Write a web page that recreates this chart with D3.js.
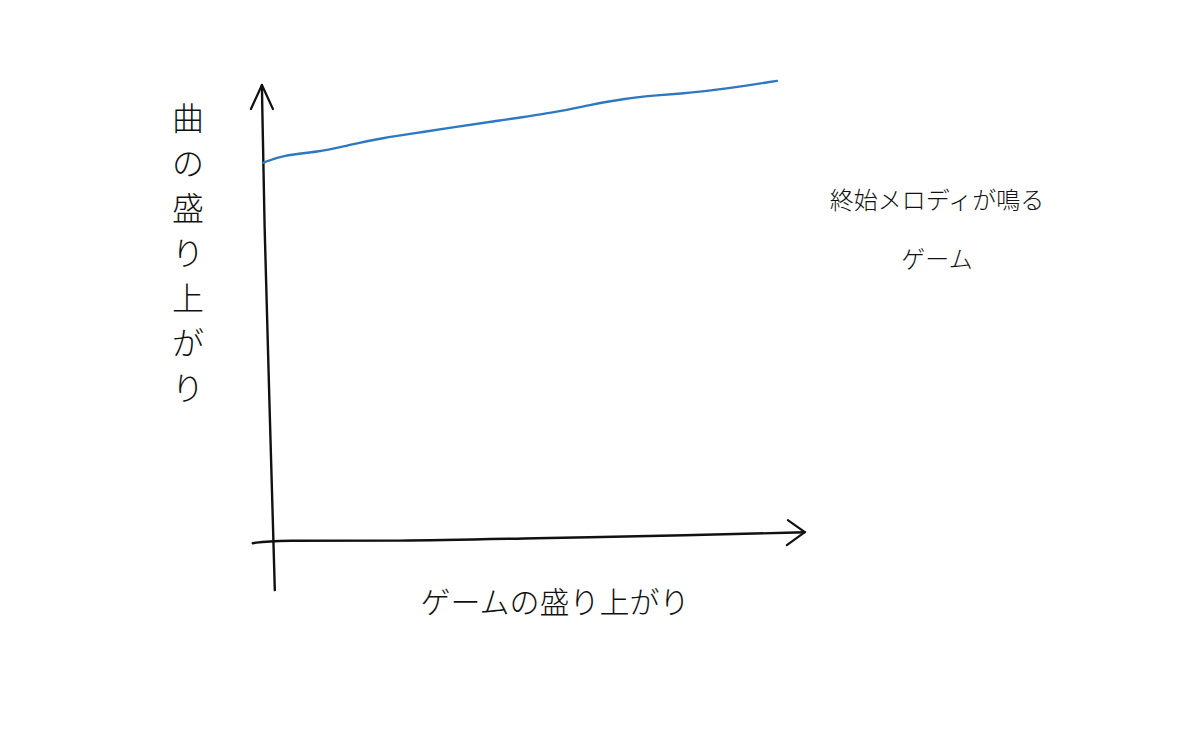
<!DOCTYPE html>
<html>
<head>
<meta charset="utf-8">
<script src="https://cdn.jsdelivr.net/npm/d3@7"></script>
<style>
  body { margin: 0; background: #fff; }
  text { font-family: "Noto Sans CJK JP", "Noto Sans", sans-serif; fill: #111; }
</style>
</head>
<body>
<div id="chart"></div>
<script>
// game excitement (x) vs music excitement (y)
const gameLevel  = [0, 3.7, 10.1, 16.2, 22.3, 28.7, 34.8, 42.3, 54.7, 60.9, 67.0, 73.4, 79.5, 85.7, 95.7];
const musicLevel = [82.0, 83.7, 84.3, 85.9, 87.4, 88.5, 89.6, 90.9, 93.0, 94.6, 95.9, 96.7, 97.2, 98.0, 99.8];

const xLabel = "ゲームの盛り上がり";
const yLabel = "曲の盛り上がり";
const noteLines = ["終始メロディが鳴る", "ゲーム"];

(function() {
  const width = 1200, height = 750;

  const svg = d3.select("#chart")
    .append("svg")
      .attr("width", width)
      .attr("height", height);

  const x = d3.scaleLinear().domain([0, 100]).range([263, 800]);
  const y = d3.scaleLinear().domain([0, 100]).range([540, 80]);

  const data = gameLevel.map((g, i) => ({g: g, m: musicLevel[i]}));

  // hand drawn axes, slightly wobbly
  const axisLine = d3.line()
    .x(d => x(d[0]))
    .y(d => y(d[1]))
    .curve(d3.curveBasis);

  // y axis (bottom end leans right a bit)
  svg.append("path")
    .attr("d", axisLine([[2.2, -10.9], [1.2, 30], [0.2, 70], [-0.2, 98.9]]))
    .attr("fill", "none")
    .attr("stroke", "#111")
    .attr("stroke-width", 2.4)
    .attr("stroke-linecap", "round");

  // x axis
  svg.append("path")
    .attr("d", axisLine([[-1.9, -0.7], [2, 0], [25, -0.3], [50, 0.4], [80, 1.0], [100.9, 1.7]]))
    .attr("fill", "none")
    .attr("stroke", "#111")
    .attr("stroke-width", 2.4)
    .attr("stroke-linecap", "round");

  // arrow heads
  const yTip = [x(-0.2), y(98.9)];
  svg.append("path")
    .attr("d", `M${yTip[0] - 11},${yTip[1] + 24} L${yTip[0]},${yTip[1]} L${yTip[0] + 11},${yTip[1] + 24}`)
    .attr("fill", "none")
    .attr("stroke", "#111")
    .attr("stroke-width", 2.2)
    .attr("stroke-linecap", "round")
    .attr("stroke-linejoin", "round");

  const xTip = [x(100.9), y(1.7)];
  svg.append("path")
    .attr("d", `M${xTip[0] - 17},${xTip[1] - 12} L${xTip[0]},${xTip[1]} L${xTip[0] - 18},${xTip[1] + 13}`)
    .attr("fill", "none")
    .attr("stroke", "#111")
    .attr("stroke-width", 2.2)
    .attr("stroke-linecap", "round")
    .attr("stroke-linejoin", "round");

  // the blue line
  svg.append("path")
    .datum(data)
    .attr("d", d3.line()
      .x(d => x(d.g))
      .y(d => y(d.m))
      .curve(d3.curveBasis))
    .attr("fill", "none")
    .attr("stroke", "#2e78c0")
    .attr("stroke-width", 2.4)
    .attr("stroke-linecap", "round");

  // x label
  svg.append("text")
    .attr("x", 555)
    .attr("y", 613)
    .attr("text-anchor", "middle")
    .attr("font-size", 30)
    .attr("font-weight", 300)
    .text(xLabel);

  // y label, one character per row
  svg.append("g")
    .selectAll("text")
    .data(Array.from(yLabel))
    .enter()
    .append("text")
      .attr("x", 188)
      .attr("y", (d, i) => 130 + i * 45)
      .attr("text-anchor", "middle")
      .attr("font-size", 32)
      .attr("font-weight", 300)
      .text(d => d);

  // annotation
  svg.append("g")
    .selectAll("text")
    .data(noteLines)
    .enter()
    .append("text")
      .attr("x", 937)
      .attr("y", (d, i) => 209 + i * 59)
      .attr("text-anchor", "middle")
      .attr("font-size", 24)
      .attr("font-weight", 300)
      .text(d => d);
})();
</script>
</body>
</html>
